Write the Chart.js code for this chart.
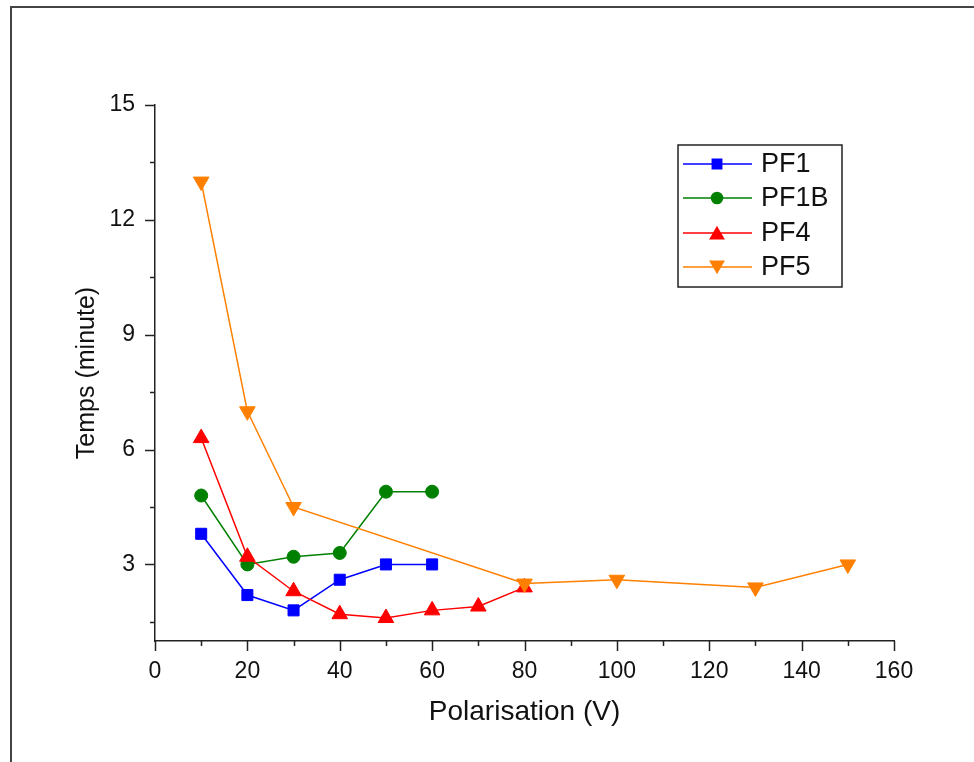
<!DOCTYPE html>
<html>
<head>
<meta charset="utf-8">
<script src="https://cdn.jsdelivr.net/npm/chart.js@4.4.1/dist/chart.umd.min.js"></script>
<style>
  html, body { margin: 0; padding: 0; background: #fff; }
  #wrap { position: relative; width: 974px; height: 762px; overflow: hidden; }
  #frame { position: absolute; left: 10px; top: 6px; width: 990px; height: 800px;
           border-left: 2px solid #444; border-top: 2px solid #444; }
  #chart { position: absolute; left: 0; top: 0; }
</style>
</head>
<body>
<div id="wrap">
  <div id="frame"></div>
  <canvas id="chart" width="974" height="762"></canvas>
</div>
<script>
// data
const seriesNames = ["PF1", "PF1B", "PF4", "PF5"];
const pf1X = [10, 20, 30, 40, 50, 60];
const pf1Y = [3.8, 2.2, 1.8, 2.6, 3.0, 3.0];
const pf1bX = [10, 20, 30, 40, 50, 60];
const pf1bY = [4.8, 3.0, 3.2, 3.3, 4.9, 4.9];
const pf4X = [10, 20, 30, 40, 50, 60, 70, 80];
const pf4Y = [6.3, 3.2, 2.3, 1.7, 1.6, 1.8, 1.9, 2.4];
const pf5X = [10, 20, 30, 80, 100, 130, 150];
const pf5Y = [13.0, 7.0, 4.5, 2.5, 2.6, 2.4, 3.0];

const xTicks = [0, 10, 20, 30, 40, 50, 60, 70, 80, 90, 100, 110, 120, 130, 140, 150, 160];
const xLabels = [0, 20, 40, 60, 80, 100, 120, 140, 160];
const yTicks = [1.5, 3, 4.5, 6, 7.5, 9, 10.5, 12, 13.5, 15];
const yLabels = [3, 6, 9, 12, 15];

const FONT = "'Liberation Sans', Arial, sans-serif";

function pts(xs, ys) {
  return xs.map((x, i) => ({x: x, y: ys[i]}));
}

// outward major/minor tick marks
const tickMarks = {
  id: 'tickMarks',
  afterDraw(chart) {
    const ctx = chart.ctx;
    const xs = chart.scales.x, ys = chart.scales.y;
    const area = chart.chartArea;
    ctx.save();
    ctx.strokeStyle = '#222';
    ctx.lineWidth = 1.5;
    ctx.beginPath();
    xTicks.forEach(v => {
      const px = Math.round(xs.getPixelForValue(v)) + 0.5;
      const len = xLabels.includes(v) ? 10 : 5;
      ctx.moveTo(px, area.bottom);
      ctx.lineTo(px, area.bottom + len);
    });
    yTicks.forEach(v => {
      const py = Math.round(ys.getPixelForValue(v)) + 0.5;
      const len = yLabels.includes(v) ? 10 : 5;
      ctx.moveTo(area.left, py);
      ctx.lineTo(area.left - len, py);
    });
    ctx.stroke();
    ctx.restore();
  }
};

// boxed legend inside the plot, upper right
const boxLegend = {
  id: 'boxLegend',
  afterDraw(chart) {
    const ctx = chart.ctx;
    const left = 678, top = 145, w = 164, h = 142;
    const rows = [164, 198, 233, 267];
    ctx.save();
    ctx.strokeStyle = '#222';
    ctx.lineWidth = 1.5;
    ctx.strokeRect(left, top, w, h);
    chart.data.datasets.forEach((ds, i) => {
      const y = rows[i];
      ctx.strokeStyle = ds.borderColor;
      ctx.lineWidth = 1.5;
      ctx.beginPath();
      ctx.moveTo(683, y);
      ctx.lineTo(752, y);
      ctx.stroke();
      ctx.fillStyle = ds.backgroundColor;
      ctx.strokeStyle = ds.borderColor;
      Chart.helpers.drawPoint(ctx, {
        pointStyle: ds.pointStyle,
        rotation: ds.pointRotation || 0,
        radius: ds.pointRadius * 0.85,
        borderWidth: 1
      }, 717, y + (ds.pointRotation ? -2 : (ds.pointStyle === 'triangle' ? 2 : 0)));
      ctx.fillStyle = '#111';
      ctx.font = '27px ' + FONT;
      ctx.textBaseline = 'middle';
      ctx.fillText(ds.label, 761, y + 1);
    });
    ctx.restore();
  }
};

function series(i, xs, ys, color, style, radius, rotation, order) {
  return {
    label: seriesNames[i],
    data: pts(xs, ys),
    borderColor: color,
    backgroundColor: color,
    borderWidth: 1.5,
    pointStyle: style,
    pointRadius: radius,
    pointRotation: rotation,
    pointBorderWidth: 1,
    order: order
  };
}

new Chart(document.getElementById('chart'), {
  type: 'line',
  data: {
    datasets: [
      series(0, pf1X, pf1Y, '#0000ff', 'rect', 7.8, 0, 3),
      series(1, pf1bX, pf1bY, '#008000', 'circle', 6.5, 0, 2),
      series(2, pf4X, pf4Y, '#ff0000', 'triangle', 9, 0, 1),
      series(3, pf5X, pf5Y, '#ff8000', 'triangle', 9, 180, 0)
    ]
  },
  options: {
    responsive: false,
    animation: false,
    layout: { padding: { top: 105, right: 80, left: 0, bottom: 0 } },
    plugins: { legend: { display: false }, tooltip: { enabled: false } },
    scales: {
      x: {
        type: 'linear',
        min: 0, max: 160,
        afterBuildTicks: s => { s.ticks = xLabels.map(v => ({value: v})); },
        afterFit: s => { s.height = 121; },
        grid: { display: false },
        border: { display: true, color: '#222', width: 1.5 },
        ticks: { color: '#111', padding: 9, font: { family: FONT, size: 23 }, maxRotation: 0 },
        title: { display: true, text: 'Polarisation (V)', color: '#111',
                 font: { family: FONT, size: 28 }, padding: { top: 0, bottom: 33 } }
      },
      y: {
        min: 1, max: 15,
        afterBuildTicks: s => { s.ticks = yLabels.map(v => ({value: v})); },
        afterFit: s => { s.width = 155; },
        grid: { display: false },
        border: { display: true, color: '#222', width: 1.5 },
        ticks: { color: '#111', padding: 12, font: { family: FONT, size: 23 } },
        title: { display: true, text: 'Temps (minute)', color: '#111',
                 font: { family: FONT, size: 25 }, padding: { top: 72, bottom: 0 } }
      }
    }
  },
  plugins: [tickMarks, boxLegend]
});
</script>
</body>
</html>
